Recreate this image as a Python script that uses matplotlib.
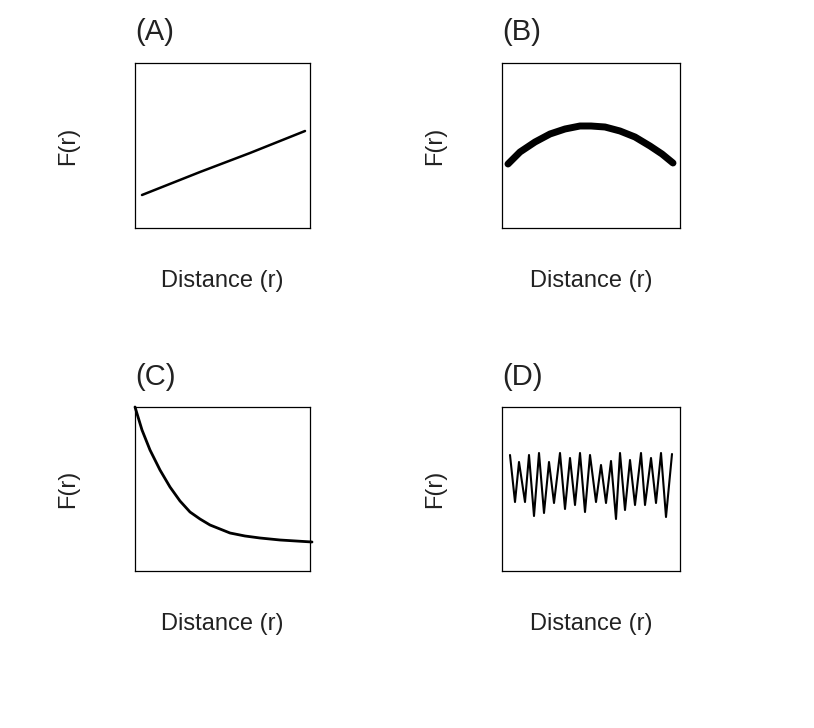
import matplotlib
matplotlib.use("Agg")
import matplotlib.pyplot as plt

plt.rcParams['font.family'] = ['Liberation Sans', 'DejaVu Sans']
W, H = 814, 728

# Curves, in picture pixel coordinates
a_x = [142, 200, 250, 305]
a_y = [195, 172, 153, 131]
b_x = [508, 520, 535, 550, 565, 580, 591, 605, 620, 635, 650, 662, 673]
b_y = [164, 152, 142, 134, 129, 126, 126, 127, 131, 137, 146, 154, 163]
c_x = [135, 142, 150, 160, 170, 180, 190, 200, 210, 220, 230, 245, 260, 280, 312]
c_y = [407, 430, 450, 470, 487, 501, 512, 519, 525, 529, 533, 536, 538, 540, 542]
d_x = [510, 515, 519, 525, 529, 534, 539, 544, 549, 554, 560, 565, 570, 575, 580, 585,
       590, 596, 601, 606, 611, 616, 620, 625, 630, 635, 641, 645, 651, 656, 661, 666, 672]
d_y = [455, 502, 462, 502, 455, 516, 453, 513, 462, 503, 453, 509, 458, 505, 453, 512,
       455, 502, 465, 503, 461, 519, 453, 510, 460, 505, 453, 505, 458, 503, 453, 517, 454]

panels = [
    ("(A)", (135, 310, 63, 228), a_x, a_y, 1.8, False),
    ("(B)", (502, 680, 63, 228), b_x, b_y, 5.0, False),
    ("(C)", (135, 310, 407, 571), c_x, c_y, 2.0, True),
    ("(D)", (502, 680, 407, 571), d_x, d_y, 1.5, False),
]

tc = '#222222'
fig = plt.figure(figsize=(W / 100, H / 100), dpi=100)
for title, (x0, x1, y0, y1), xs, ys, lw, noclip in panels:
    ax = fig.add_axes([x0 / W, 1 - y1 / H, (x1 - x0) / W, (y1 - y0) / H])
    ax.plot(xs, ys, color='black', lw=lw, solid_capstyle='round',
            solid_joinstyle='round', clip_on=not noclip)
    ax.set_xlim(x0, x1)
    ax.set_ylim(y1, y0)
    ax.set_xticks([]); ax.set_yticks([])
    for s in ax.spines.values():
        s.set_linewidth(0.9)
    ax.text(0, 1.1, title, transform=ax.transAxes, fontsize=21, ha='left',
            va='bottom', color=tc)
    ax.set_xlabel("Distance (r)", fontsize=17, labelpad=30, color=tc)
    ax.set_ylabel("F(r)", fontsize=17, labelpad=40, color=tc)

fig.savefig("out.png", dpi=100)
